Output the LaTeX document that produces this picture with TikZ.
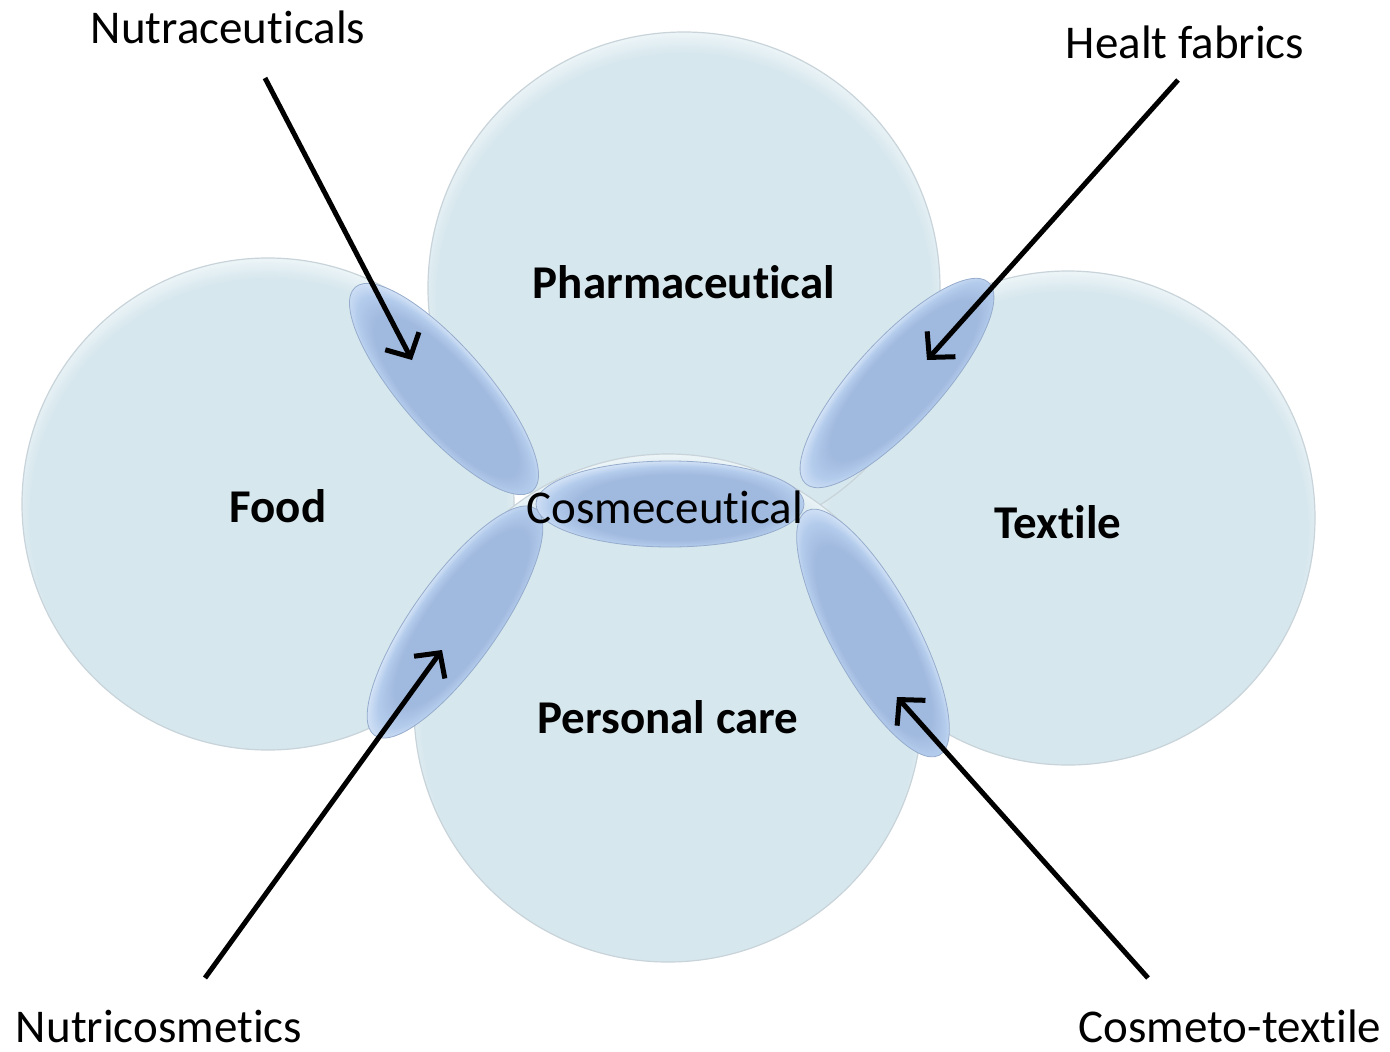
\documentclass[tikz,border=0pt]{standalone}
\usepackage{fontspec}
\setmainfont{Carlito}[RawFeature={-liga;-clig;-calt;-dlig}]
\usetikzlibrary{arrows.meta}
\newcommand{\nolig}{\kern0pt }
\definecolor{circ}{RGB}{214,231,237}
\definecolor{circline}{RGB}{200,212,218}
\definecolor{circhi}{RGB}{244,249,251}
\definecolor{petal}{RGB}{160,185,222}
\definecolor{petalmid}{RGB}{180,204,236}
\definecolor{petalrim}{RGB}{210,226,246}
\definecolor{petalline}{RGB}{150,172,205}
\pgfdeclareradialshading{discshade}{\pgfpoint{0bp}{-2.5bp}}{color(0bp)=(circ); color(24.2bp)=(circ); color(26.8bp)=(circhi); color(50bp)=(circhi)}
\pgfdeclareradialshading{petalshade}{\pgfpoint{2bp}{-3bp}}{color(0bp)=(petal); color(19bp)=(petal); color(23.5bp)=(petalmid); color(26.5bp)=(petalrim); color(50bp)=(petalrim)}
\begin{document}
\begin{tikzpicture}[x=1pt,y=-1pt,
  lbl/.style={font=\fontsize{47}{56}\selectfont, inner sep=0pt, anchor=base},
  blbl/.style={lbl, font=\fontsize{47}{56}\selectfont\bfseries},
  disc/.style={shading=discshade, draw=circline, line width=1.2pt},
  petalsty/.style={shading=petalshade, draw=petalline, line width=0.8pt},
  pointer/.style={line width=5pt, -{Straight Barb[length=18pt,width=38pt,line width=5pt]}}]
\useasboundingbox[fill=white] (0,0) rectangle (1390,1052);
% circles
\shade[disc] (268,504) circle[radius=246];
\shade[disc] (1068,518) circle[radius=247];
\shade[disc] (684,288) circle[radius=256];
\shade[disc] (668,708) circle[radius=254];
% petals
\begin{scope}[transform canvas={shift={(444,389)}, rotate=-48.9}]
  \shade[petalsty] (0,0) ellipse (135 and 43);
\end{scope}
\begin{scope}[transform canvas={shift={(897,383)}, rotate=47.7}]
  \shade[petalsty] (0,0) ellipse (136 and 43);
\end{scope}
\begin{scope}[transform canvas={shift={(455,622)}, rotate=54.6}]
  \shade[petalsty] (0,0) ellipse (139 and 43);
\end{scope}
\begin{scope}[transform canvas={shift={(873,633)}, rotate=-61.5}]
  \shade[petalsty] (0,0) ellipse (139 and 43);
\end{scope}
\begin{scope}[transform canvas={shift={(670,504)}}]
  \shade[petalsty] (0,0) ellipse (134 and 43);
\end{scope}
% inner labels
\node[blbl] (pharma) at (684,298) {Pharmaceut\nolig ical};
\node[blbl] (food) at (278,522) {Food};
\node[blbl] (textile) at (1058,538) {Text\nolig ile};
\node[blbl] (personal) at (668,733) {Personal care};
\node[lbl] (cosme) at (665,523) {Cosmeceut\nolig ical};
% outer labels
\node[lbl] (nutra) at (228,43) {Nutraceut\nolig icals};
\node[lbl] (health) at (1185,58) {Healt fabrics};
\node[lbl] (nutri) at (159,1042) {Nutricosmet\nolig ics};
\node[lbl] (cosmtex) at (1230,1042) {Cosmeto-text\nolig ile};
% arrows
\coordinate (a1s) at (265,78);  \coordinate (a1e) at (412,360);
\coordinate (a2s) at (1178,80); \coordinate (a2e) at (927,360);
\coordinate (a3s) at (205,978); \coordinate (a3e) at (442,650);
\coordinate (a4s) at (1148,978); \coordinate (a4e) at (897,697);
\draw[pointer] (a1s) -- (a1e);
\draw[pointer] (a2s) -- (a2e);
\draw[pointer] (a3s) -- (a3e);
\draw[pointer] (a4s) -- (a4e);
\end{tikzpicture}
\end{document}
